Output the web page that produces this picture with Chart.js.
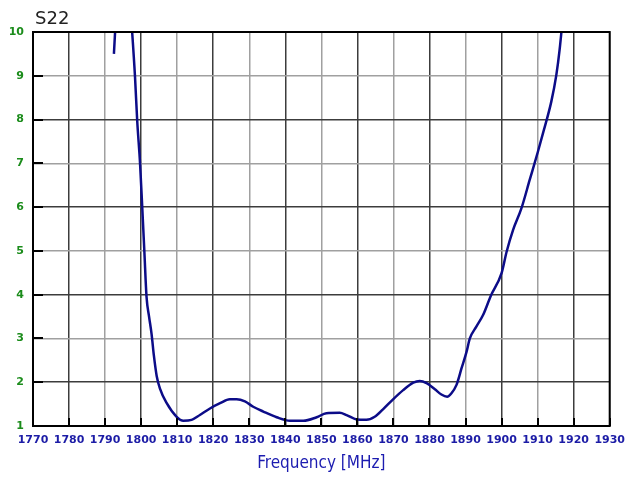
<!DOCTYPE html>
<html>
<head>
<meta charset="utf-8">
<script src="https://cdn.jsdelivr.net/npm/chart.js@4"></script>
<style>
  html, body { margin: 0; padding: 0; background: #fff; }
  #wrap { width: 633px; height: 479px; }
</style>
</head>
<body>
<div id="wrap"><canvas id="s22Chart" width="633" height="479"></canvas></div>
<script>
// frequency points (MHz) and S22 values, null = gap
const freqs = [1792.45, 1793.1, 1795, 1797.1, 1798.3, 1798.9, 1799.7, 1800.3, 1800.9, 1801.5, 1802.2, 1802.9, 1803.55, 1804.3,
    1805.2, 1807.1, 1809.85, 1811.7, 1814.0, 1816.3, 1819.1, 1821.9, 1824.6, 1826.5, 1828.8, 1831.1, 1833.9, 1837.6,
    1841.3, 1845.0, 1848.7, 1851.4, 1855.1, 1857.0, 1859.8, 1862.5, 1864.8, 1867.1, 1869.9, 1872.7, 1875.5, 1877.3,
    1879.2, 1881.5, 1883.3, 1884.9, 1886.1, 1887.5, 1888.9, 1890.3, 1891.2, 1893.0, 1894.9, 1897.0, 1900.0, 1901.4,
    1903.2, 1905.5, 1907.8, 1910.1, 1911.5, 1913.8, 1915.2, 1916.1, 1917.3];
const s22 = [9.5, 10.5, null, 10.5, 8.98, 7.99, 7.0, 6.01, 4.98, 3.95, 3.5, 3.1, 2.6, 2.15,
    1.86, 1.52, 1.21, 1.12, 1.14, 1.25, 1.40, 1.52, 1.61, 1.61, 1.56, 1.44, 1.33, 1.20,
    1.12, 1.12, 1.20, 1.29, 1.30, 1.25, 1.15, 1.14, 1.21, 1.38, 1.61, 1.82, 1.99, 2.03,
    1.98, 1.84, 1.72, 1.67, 1.75, 1.94, 2.32, 2.70, 3.00, 3.27, 3.54, 3.97, 4.49, 4.98,
    5.48, 5.97, 6.62, 7.27, 7.69, 8.41, 9.02, 9.59, 10.6];
const xRange = [1770, 1930];
const yRange = [1, 10];
const chartTitle = 'S22';
const xTitle = 'Frequency [MHz]';

const DARK = '#3c3c3c', LIGHT = '#a0a0a0';

// frame, inner tick marks and the S22 caption
const framePlugin = {
    id: 'frame',
    afterDraw(chart) {
        const { ctx, chartArea: a, scales } = chart;
        ctx.save();
        ctx.strokeStyle = '#000';
        ctx.lineWidth = 2;
        ctx.beginPath();
        scales.y.ticks.forEach(t => {
            const py = Math.round(scales.y.getPixelForValue(t.value));
            ctx.moveTo(a.left, py); ctx.lineTo(a.left + 10, py);
        });
        scales.x.ticks.forEach(t => {
            const px = Math.round(scales.x.getPixelForValue(t.value));
            ctx.moveTo(px, a.bottom); ctx.lineTo(px, a.bottom - 8);
        });
        ctx.stroke();
        ctx.strokeRect(a.left, a.top, a.right - a.left, a.bottom - a.top);
        ctx.fillStyle = '#222';
        ctx.font = '18px "DejaVu Sans"';
        ctx.textBaseline = 'alphabetic';
        ctx.fillText(chartTitle, a.left + 2, a.top - 8);
        ctx.restore();
    }
};

new Chart(document.getElementById('s22Chart'), {
    type: 'line',
    data: {
        datasets: [{
            data: freqs.map((f, i) => ({ x: f, y: s22[i] })),
            borderColor: '#0c0c88',
            borderWidth: 2.5,
            pointRadius: 0,
            cubicInterpolationMode: 'monotone',
            spanGaps: false
        }]
    },
    options: {
        responsive: false,
        animation: false,
        layout: { padding: { top: 32, right: 23, left: 0, bottom: 0 } },
        plugins: { legend: { display: false }, tooltip: { enabled: false } },
        scales: {
            x: {
                type: 'linear', min: xRange[0], max: xRange[1],
                afterFit: s => { s.height = 53; },
                border: { display: false },
                grid: { color: c => c.tick.value % 20 === 0 ? DARK : LIGHT, lineWidth: 1.5, drawTicks: false },
                ticks: { stepSize: 10, padding: 8, color: '#1c1ca6', font: { family: 'DejaVu Sans', size: 11, weight: 'bold' }, maxRotation: 0, autoSkip: false, callback: v => String(v) },
                title: { display: true, text: xTitle, color: '#1c1cb0', font: { family: 'DejaVu Sans Condensed', size: 17 }, padding: { top: 0, bottom: 5 } }
            },
            y: {
                min: yRange[0], max: yRange[1],
                afterFit: s => { s.width = 33; },
                border: { display: false },
                grid: { color: c => c.tick.value % 2 === 0 ? DARK : LIGHT, lineWidth: 1.5, drawTicks: false },
                ticks: { stepSize: 1, padding: 9, color: '#1b8c1b', font: { family: 'DejaVu Sans', size: 11, weight: 'bold' } }
            }
        }
    },
    plugins: [framePlugin]
});
</script>
</body>
</html>
